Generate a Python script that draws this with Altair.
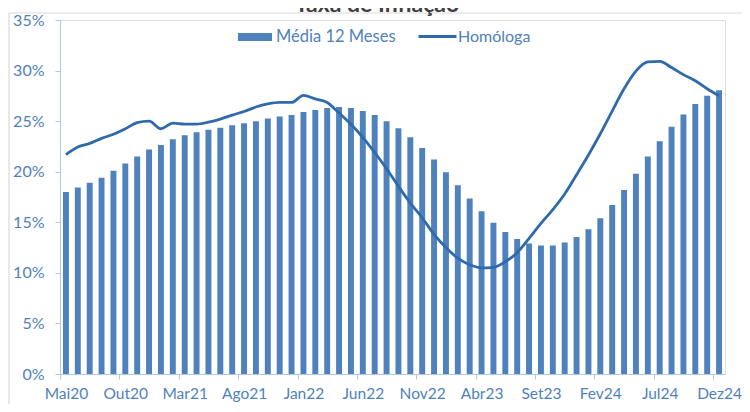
import altair as alt
import pandas as pd

mes = ["Jan", "Fev", "Mar", "Abr", "Mai", "Jun", "Jul", "Ago", "Set", "Out", "Nov", "Dez"]
periodos = [f"{mes[m]}{y % 100:02d}" for y in range(2020, 2025) for m in range(12)
            if not (y == 2020 and m < 4)]

media_12m = [18.0, 18.45, 18.9, 19.4, 20.1, 20.8, 21.5, 22.2, 22.65, 23.2,
             23.6, 23.9, 24.15, 24.35, 24.6, 24.8, 25.0, 25.25, 25.45, 25.6,
             25.9, 26.1, 26.3, 26.4, 26.3, 26.0, 25.6, 25.0, 24.3, 23.4,
             22.35, 21.2, 19.95, 18.65, 17.35, 16.1, 14.95,
             14.05, 13.35, 12.9, 12.7, 12.7, 13.0, 13.55, 14.3, 15.4,
             16.7, 18.2, 19.8, 21.5, 23.0, 24.45, 25.65, 26.7, 27.5, 28.05]

homologa = [21.7, 22.45, 22.8, 23.3, 23.7, 24.25, 24.85, 25.0, 24.25, 24.8,
            24.7, 24.7, 24.9, 25.2, 25.6, 25.95, 26.4, 26.7, 26.85, 26.85,
            27.55, 27.2, 26.85, 25.8, 24.7, 23.4, 21.9, 20.3, 18.55, 16.9,
            15.45, 13.8, 12.5, 11.45, 10.8, 10.5, 10.55,
            11.1, 12.0, 13.4, 14.9, 16.25, 17.8, 19.7, 21.65, 23.75,
            26.0, 28.2, 29.95, 30.85, 30.9, 30.3, 29.6, 29.0, 28.2, 27.5]

y_ticks = [0, 0.05, 0.10, 0.15, 0.20, 0.25, 0.30, 0.35]
x_ticks = periodos[::5]

df = pd.DataFrame({
    "periodo": periodos,
    "media": [v / 100 for v in media_12m],
    "homologa": [v / 100 for v in homologa],
    "s_bar": "Média 12 Meses",
    "s_line": "Homóloga",
})

W, H = 665, 354
step = W / len(periodos)
FONT = "Lato"
TXT = "#4f81bd"
AX = "#b4c7e0"

x_enc = alt.X(
    "periodo:N", sort=periodos,
    scale=alt.Scale(paddingInner=0.5, paddingOuter=0.25),
    axis=alt.Axis(values=x_ticks, title=None, labelAngle=0, tickSize=5,
                  tickOffset=-step / 2, labelOffset=step / 2,
                  labelPadding=7, labelFont=FONT, labelFontSize=15.5,
                  labelColor=TXT, domainColor=AX, tickColor=AX, grid=False),
)

y_axis = alt.Axis(values=y_ticks, format=".0%", title=None, grid=False,
                  tickSize=5, labelPadding=11, labelFont=FONT, labelFontSize=16,
                  labelColor=TXT, domainColor=AX, tickColor=AX)

base = alt.Chart(df)

bars = base.mark_bar().encode(
    x=x_enc,
    y=alt.Y("media:Q", scale=alt.Scale(domain=[0, 0.35], nice=False), axis=y_axis),
    fill=alt.Fill("s_bar:N", scale=alt.Scale(domain=["Média 12 Meses"], range=["#4f81bd"]),
                  legend=alt.Legend(orient="none", legendX=178, legendY=0, title=None,
                                    symbolType="M-1,-0.235H1V0.235H-1Z", symbolSize=1156,
                                    symbolStrokeWidth=0, labelFont=FONT, labelFontSize=16.5,
                                    labelColor=TXT, labelOffset=4)),
)

line = base.mark_line(interpolate="monotone", strokeWidth=2.8).encode(
    x=x_enc,
    y=alt.Y("homologa:Q", scale=alt.Scale(domain=[0, 0.35], nice=False), axis=y_axis),
    stroke=alt.Stroke("s_line:N", scale=alt.Scale(domain=["Homóloga"], range=["#2e6aac"]),
                      legend=alt.Legend(orient="none", legendX=357, legendY=-4, title=None,
                                        symbolType="stroke", symbolSize=1444,
                                        symbolStrokeWidth=2.8, labelFont=FONT,
                                        labelFontSize=16, labelColor=TXT, labelOffset=0)),
)

frame_df = pd.DataFrame({"k": [0]})
frame_top = alt.Chart(frame_df).mark_rule(color="#d9d9d9", strokeWidth=1.2).encode(
    x=alt.value(-51), x2=alt.value(W + 40), y=alt.value(-7)
)
frame_left = alt.Chart(frame_df).mark_rule(color="#d9d9d9", strokeWidth=1.2).encode(
    x=alt.value(-51), y=alt.value(-7), y2=alt.value(H + 60)
)
title = alt.Chart(frame_df).mark_text(
    font=FONT, fontSize=23, fontWeight="bold", color="#404040",
    align="center", baseline="alphabetic"
).encode(text=alt.value("Taxa de Inflação"), x=alt.value(317), y=alt.value(-8))

chart = alt.layer(frame_top, frame_left, title, bars, line).resolve_scale(
    fill="independent", stroke="independent"
).properties(
    width=W, height=H,
    autosize=alt.AutoSizeParams(type="none"),
    padding={"left": 52, "top": 12, "right": 17, "bottom": 30},
).configure_view(stroke=None).configure(background="white")

chart.save("out.html", embed_options={"renderer": "svg", "actions": False})
